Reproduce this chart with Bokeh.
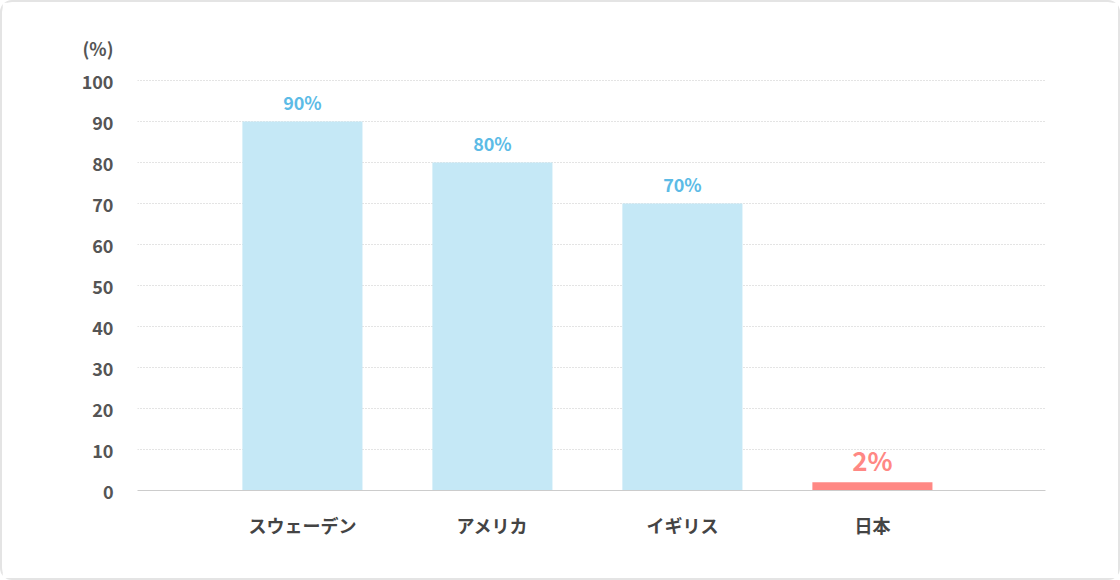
from bokeh.plotting import figure
from bokeh.models import Range1d, FixedTicker, ColumnDataSource, LabelSet
from bokeh.core.properties import value
from bokeh.embed import file_html
from bokeh.resources import INLINE

categories = ["スウェーデン", "アメリカ", "イギリス", "日本"]
values = [90, 80, 70, 2]
value_labels = ["90%", "80%", "70%", "2%"]
y_ticks = [0, 10, 20, 30, 40, 50, 60, 70, 80, 90, 100]
unit_label = "(%)"
highlight = "日本"

FONT = "Noto Sans CJK JP"
BLUE_BAR = "#c5e8f6"
BLUE_TEXT = "#5cbbe6"
RED = "#ff8884"

xs = list(range(len(categories)))
is_hi = [c == highlight for c in categories]

p = figure(width=1120, height=580, output_backend="svg", toolbar_location=None,
           x_range=Range1d(-0.868, 3.911), y_range=Range1d(0, 112.2),
           min_border_left=135, min_border_right=77, min_border_top=28, min_border_bottom=92)
p.styles = {"border": "2px solid #e4e4e4", "border-radius": "12px"}
p.outline_line_color = None
p.background_fill_color = "white"
p.border_fill_color = "white"

src_n = ColumnDataSource(dict(x=[x for x, h in zip(xs, is_hi) if not h],
                              y=[v for v, h in zip(values, is_hi) if not h],
                              t=[t for t, h in zip(value_labels, is_hi) if not h]))
src_h = ColumnDataSource(dict(x=[x for x, h in zip(xs, is_hi) if h],
                              y=[v for v, h in zip(values, is_hi) if h],
                              t=[t for t, h in zip(value_labels, is_hi) if h]))

p.vbar(x="x", top="y", bottom=0, width=0.632, source=src_n, fill_color=BLUE_BAR, line_color=None)
p.vbar(x="x", top="y", bottom=0, width=0.632, source=src_h, fill_color=RED, line_color=None)

p.add_layout(LabelSet(x="x", y="y", text="t", source=src_n, text_align="center",
                      text_baseline="middle", y_offset=20, text_font=value(FONT),
                      text_font_style="bold", text_font_size="18px", text_color=BLUE_TEXT))
p.add_layout(LabelSet(x="x", y="y", text="t", source=src_h, text_align="center",
                      text_baseline="middle", y_offset=23, text_font=value(FONT),
                      text_font_style="bold", text_font_size="26px", text_color=RED))

# y axis
p.yaxis.ticker = FixedTicker(ticks=y_ticks + [108])
p.yaxis.major_label_overrides = {108: unit_label}
p.yaxis.axis_line_color = None
p.yaxis.major_tick_line_color = None
p.yaxis.minor_tick_line_color = None
p.yaxis.major_label_standoff = 18
p.yaxis.major_label_text_font = FONT
p.yaxis.major_label_text_font_style = "bold"
p.yaxis.major_label_text_font_size = "18px"
p.yaxis.major_label_text_color = "#555555"

p.ygrid.ticker = FixedTicker(ticks=y_ticks[1:])
p.ygrid.grid_line_color = "#c8c8c8"
p.ygrid.grid_line_dash = "1 2"
p.ygrid.grid_line_width = 1
p.xgrid.grid_line_color = None

# x axis
p.xaxis.ticker = FixedTicker(ticks=xs)
p.xaxis.major_label_overrides = {x: c for x, c in zip(xs, categories)}
p.xaxis.axis_line_color = "#cccccc"
p.xaxis.axis_line_width = 1
p.xaxis.major_tick_line_color = None
p.xaxis.minor_tick_line_color = None
p.xaxis.major_label_standoff = 15
p.xaxis.major_label_text_font = FONT
p.xaxis.major_label_text_font_style = "bold"
p.xaxis.major_label_text_font_size = "18px"
p.xaxis.major_label_text_color = "#444444"

open("out.html", "w").write(file_html(p, INLINE))
